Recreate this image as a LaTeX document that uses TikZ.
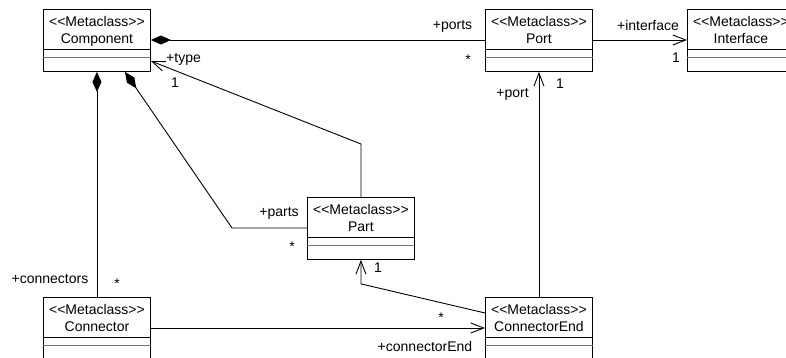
\documentclass[tikz,border=0pt]{standalone}
\usepackage{fontspec}
\setmainfont{Liberation Sans}[Ligatures=TeXOff]
\usetikzlibrary{arrows.meta,calc}

\tikzset{
  x=1pt, y=-1pt,
  every path/.style={line width=0.9pt},
  mcframe/.style={draw, line width=0.9pt, minimum width=107pt, minimum height=62pt,
    inner sep=0pt, anchor=north west},
  mclabel/.style={inner sep=0pt, anchor=base, font=\fontsize{14}{16}\selectfont},
  divider/.style={draw=black!55, line width=1.4pt},
  role/.style={inner sep=0pt, anchor=center, font=\fontsize{14}{16}\selectfont},
  compo/.style={{Diamond[length=20pt,width=9pt]}-},
  assoc/.style={-{Straight Barb[length=13pt,width=10pt]}},
}

% one metaclass box: node name, left, top, class name
\newcommand\mcbox[4]{%
  \node[mcframe] (#1) at (#2,#3) {};
  \node[mclabel] (#1-st) at ($(#1.north)+(0,17.8)$) {<<Metaclass>>};
  \node[mclabel] (#1-nm) at ($(#1.north)+(0,34.8)$) {#4};
  \draw ($(#1.north west)+(0,40)$) -- ($(#1.north east)+(0,40)$);
  \draw[divider] ($(#1.north west)+(0,48.5)$) -- ($(#1.north east)+(0,48.5)$);
}

\begin{document}
\begin{tikzpicture}
\fill[white] (0,0) rectangle (786,358);
\useasboundingbox (0,0) rectangle (786,358);

\mcbox{comp}{43}{9}{Component}
\mcbox{port}{485}{9}{Port}
\mcbox{iface}{687}{9}{Interface}
\mcbox{part}{307}{197}{Part}
\mcbox{conn}{43}{297}{Connector}
\mcbox{cend}{485}{297}{ConnectorEnd}

% compositions owned by Component
\draw[compo] ($(comp.north east)+(0,31)$) -- ($(port.north west)+(0,31)$);
\draw[compo] (comp.south) -- (conn.north);
\draw[compo] ($(comp.south west)+(82,0)$) -- ($(part.north west)+(-75,31)$)
  -- ($(part.north west)+(0,31)$);

% directed associations
\draw[assoc] ($(port.north east)+(0,31)$) -- ($(iface.north west)+(0,31)$);
\draw[assoc] (part.north) -- ++(0,-53) -- ($(comp.north east)+(0,52)$);
\draw[assoc] (cend.north) -- (port.south);
\draw[assoc] ($(conn.north east)+(0,31)$) -- ($(cend.north west)+(0,31)$);
\draw[assoc] ($(cend.north west)+(0,16)$) -- ($(part.south)+(0,24)$) -- (part.south);

% role names and multiplicities
\node[role] (r-ports) at (452.5,26) {+ports};
\node[role] (m-ports) at (468,60) {*};
\node[role] (r-iface) at (648,25.5) {+interface};
\node[role] (m-iface) at (676,58) {1};
\node[role] (r-type) at (183.5,59) {+type};
\node[role] (m-type) at (175,83) {1};
\node[role] (r-port) at (512.5,94) {+port};
\node[role] (m-port) at (560,84) {1};
\node[role] (r-parts) at (279,213) {+parts};
\node[role] (m-parts) at (292,247) {*};
\node[role] (m-part) at (378,267.5) {1};
\node[role] (m-cend) at (441,318) {*};
\node[role] (r-cend) at (425,346.5) {+connectorEnd};
\node[role] (r-conn) at (50,279.5) {+connectors};
\node[role] (m-conn) at (117,284) {*};
\end{tikzpicture}
\end{document}
